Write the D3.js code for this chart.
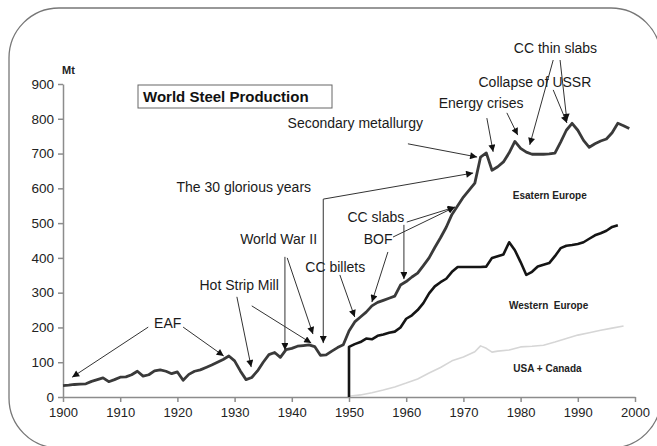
<!DOCTYPE html>
<html>
<head>
<meta charset="utf-8">
<script src="https://cdn.jsdelivr.net/npm/d3@7"></script>
<style>
    body { margin: 0; background: #fff; }
    svg { display: block; font-family: "Liberation Sans", Arial, sans-serif; }
    .axis path, .axis line { stroke: #8c8c8c; stroke-width: 1.5; }
    .axis text { fill: #222; }
</style>
</head>
<body>
<svg id="chart" width="657" height="446"></svg>
<script>
/**
 * Data.
 */
// World production, one value per year 1900..1999 (Mt)
const worldYears = d3.range(1900, 2000);
const worldValues = [
    33, 34, 36, 37, 38, 45, 50, 55, 44, 50,
    57, 58, 64, 74, 60, 64, 75, 78, 74, 67,
    72, 48, 65, 74, 78, 85, 92, 100, 108, 118,
    104, 75, 50, 56, 75, 100, 122, 128, 114, 136,
    140, 146, 148, 150, 145, 120, 121, 132, 142, 150,
    190, 216, 230, 244, 262, 272, 278, 284, 290, 322,
    332, 345, 356, 378, 400, 430, 458, 488, 525, 550,
    575, 595, 615, 690, 702, 652, 662, 676, 702, 735,
    715, 704, 698, 698, 698, 699, 701, 733, 767, 787,
    767, 738, 718, 728, 736, 742, 760, 787, 780, 772
];

// World minus Eastern Europe, rises from 0 at 1950
const westYears = [1950].concat(d3.range(1950, 1999));
const westValues = [
    0,
    144, 152, 158, 168, 166, 176, 180, 185, 188, 200,
    225, 235, 250, 270, 298, 318, 330, 340, 360, 374,
    374, 374, 374, 374, 375, 400, 405, 410, 445,
    422, 388, 351, 360, 375, 380, 385, 405, 428, 435,
    437, 440, 445, 455, 465, 471, 478, 489, 494
];

// USA + Canada
const usaYears = [1950, 1952, 1954, 1956, 1958, 1960, 1962, 1964, 1966, 1968, 1970, 1972, 1973,
    1974, 1975, 1976, 1978, 1980, 1982, 1984, 1986, 1988, 1990, 1992, 1994, 1996, 1998];
const usaValues = [2, 6, 12, 20, 29, 40, 52, 69, 85, 104, 115, 130, 147,
    140, 129, 132, 135, 144, 146, 149, 158, 168, 178, 185, 192, 198, 204];

// Ticks
const xTicks = d3.range(1900, 2001, 10);
const yTicks = d3.range(0, 901, 100);

// Annotation texts, anchored in data units (year, Mt)
const noteTexts = ['EAF', 'Hot Strip Mill', 'World War II', 'CC billets', 'BOF', 'CC slabs',
    'The 30 glorious years', 'Secondary metallurgy', 'Energy crises', 'Collapse of USSR', 'CC thin slabs'];
const noteAnchors = [[1918.3, 198], [1930.8, 308], [1937.7, 440], [1947.6, 359], [1955.1, 440], [1954.7, 503],
    [1931.6, 589], [1951.1, 773], [1973.1, 831], [1982.5, 891], [1986.1, 989]];

// Region labels
const regionTexts = ['Esatern Europe', 'Western  Europe', 'USA + Canada'];
const regionAnchors = [[1985.1, 569], [1984.9, 253], [1984.7, 72]];

// Arrows: [from, to] in data units
const arrows = [
    [[1914.9, 201], [1901.6, 57]],
    [[1921.0, 201], [1928.1, 118]],
    [[1930.4, 288], [1932.9, 86]],
    [[1933.0, 262], [1943.4, 155]],
    [[1938.8, 403], [1938.8, 135]],
    [[1939.2, 400], [1943.7, 181]],
    [[1948.4, 351], [1951.0, 230]],
    [[1956.8, 417], [1954.0, 273]],
    [[1957.7, 460], [1968.5, 546]],
    [[1960.1, 503], [1968.5, 546]],
    [[1959.6, 495], [1959.6, 339]],
    [[1945.5, 569], [1945.5, 155]],
    [[1945.5, 569], [1971.7, 644]],
    [[1960.3, 728], [1972.4, 690]],
    [[1974.1, 802], [1975.2, 705]],
    [[1977.6, 817], [1979.5, 753]],
    [[1985.7, 969], [1981.6, 725]],
    [[1986.9, 969], [1988.1, 794]],
    [[1985.7, 883], [1988.1, 788]]
];

/**
 * Visual configs.
 */
const plot = { left: 63, right: 635, top: 84, bottom: 397 };

const svg = d3.select('#chart');

const xScale = d3.scaleLinear().domain([1900, 2000]).range([plot.left, plot.right]),
    yScale = d3.scaleLinear().domain([0, 900]).range([plot.bottom, plot.top]);

// Rounded frame
svg.append('rect')
    .attr('x', 9).attr('y', 8)
    .attr('width', 652).attr('height', 440)
    .attr('rx', 50).attr('ry', 50)
    .attr('fill', 'none')
    .attr('stroke', '#777')
    .attr('stroke-width', 1.3);

// Arrow head
svg.append('defs').append('marker')
    .attr('id', 'head')
    .attr('viewBox', '0 0 10 10')
    .attr('refX', 10).attr('refY', 5)
    .attr('markerWidth', 8).attr('markerHeight', 7)
    .attr('markerUnits', 'userSpaceOnUse')
    .attr('orient', 'auto')
  .append('path')
    .attr('d', 'M0,0L10,5L0,10Z')
    .attr('fill', '#111');

/**
 * Axes.
 */
const xAxis = d3.axisBottom(xScale).tickValues(xTicks).tickFormat(d3.format('d'))
    .tickSize(5).tickSizeOuter(0).tickPadding(6);
const yAxis = d3.axisLeft(yScale).tickValues(yTicks)
    .tickSize(5).tickSizeOuter(0).tickPadding(4);

svg.append('g').attr('class', 'axis x-axis')
    .attr('transform', 'translate(0,' + plot.bottom + ')')
    .call(xAxis)
    .call(g => g.selectAll('text').style('font-size', '13px'));

svg.append('g').attr('class', 'axis y-axis')
    .attr('transform', 'translate(' + plot.left + ',0)')
    .call(yAxis)
    .call(g => g.selectAll('text').style('font-size', '13.5px'));

svg.append('text')
    .attr('x', plot.left - 1).attr('y', plot.top - 10)
    .style('font-size', '11px').style('font-weight', 'bold')
    .attr('fill', '#222')
    .text('Mt');

/**
 * Lines.
 */
const line = d3.line()
    .x(d => xScale(d[0]))
    .y(d => yScale(d[1]));

const series = [
    { years: usaYears, values: usaValues, color: '#d6d6d6', width: 1.6 },
    { years: westYears, values: westValues, color: '#151515', width: 2.6 },
    { years: worldYears, values: worldValues, color: '#3a3a3a', width: 2.8 }
];

svg.append('g').attr('class', 'lines')
    .selectAll('path').data(series)
    .enter().append('path')
        .attr('d', s => line(s.years.map((y, i) => [y, s.values[i]])))
        .attr('fill', 'none')
        .attr('stroke', s => s.color)
        .attr('stroke-width', s => s.width)
        .attr('stroke-linejoin', 'round');

/**
 * Annotations.
 */
svg.append('g').attr('class', 'arrows')
    .selectAll('line').data(arrows)
    .enter().append('line')
        .attr('x1', d => xScale(d[0][0])).attr('y1', d => yScale(d[0][1]))
        .attr('x2', d => xScale(d[1][0])).attr('y2', d => yScale(d[1][1]))
        .attr('stroke', '#333')
        .attr('stroke-width', 1)
        .attr('marker-end', 'url(#head)');

svg.append('g').attr('class', 'notes')
    .selectAll('text').data(noteTexts)
    .enter().append('text')
        .attr('x', (d, i) => xScale(noteAnchors[i][0]))
        .attr('y', (d, i) => yScale(noteAnchors[i][1]))
        .attr('text-anchor', 'middle')
        .style('font-size', '14px')
        .attr('fill', '#1a1a1a')
        .text(String);

svg.append('g').attr('class', 'regions')
    .selectAll('text').data(regionTexts)
    .enter().append('text')
        .attr('x', (d, i) => xScale(regionAnchors[i][0]))
        .attr('y', (d, i) => yScale(regionAnchors[i][1]))
        .attr('text-anchor', 'middle')
        .style('font-size', '10px').style('font-weight', 'bold')
        .style('white-space', 'pre')
        .attr('fill', '#222')
        .text(String);

// Title box
const title = svg.append('g').attr('class', 'title');
title.append('rect')
    .attr('x', 138).attr('y', 85)
    .attr('width', 194).attr('height', 23)
    .attr('fill', '#fff')
    .attr('stroke', '#666');
title.append('text')
    .attr('x', 143).attr('y', 102)
    .style('font-size', '15px').style('font-weight', 'bold')
    .attr('fill', '#111')
    .text('World Steel Production');
</script>
</body>
</html>
